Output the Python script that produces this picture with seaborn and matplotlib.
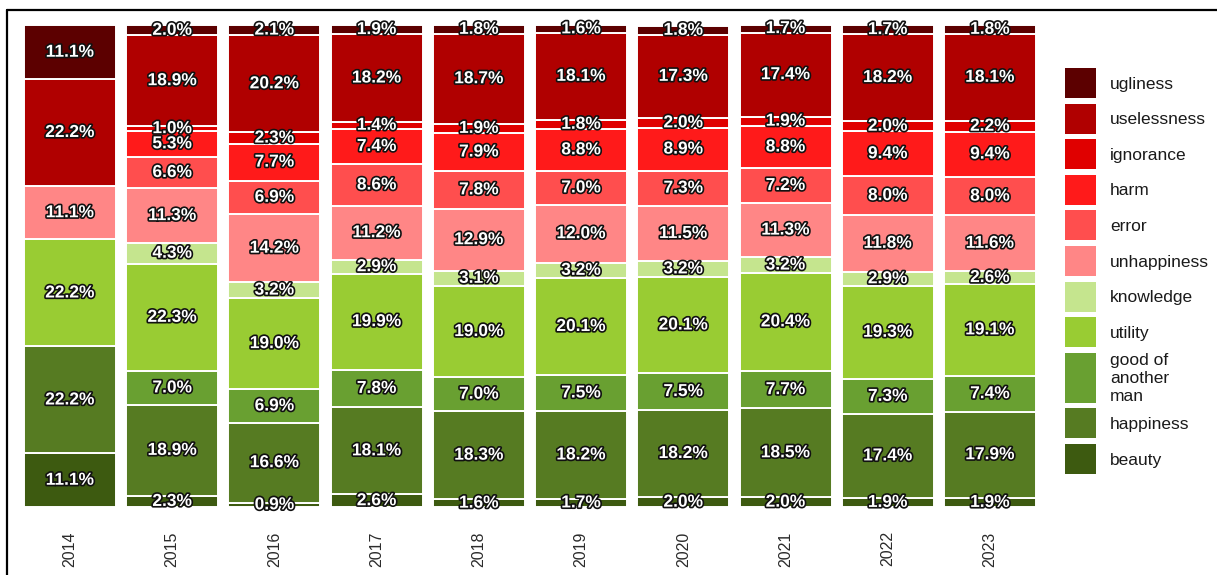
import numpy as np
import pandas as pd
import matplotlib
matplotlib.use("Agg")
import matplotlib.pyplot as plt
import matplotlib.patheffects as pe
from matplotlib.patches import Rectangle
from matplotlib.lines import Line2D
import seaborn as sns

years = ["2014", "2015", "2016", "2017", "2018", "2019", "2020", "2021", "2022", "2023"]

# categories in stacking order, bottom to top
categories = ["beauty", "happiness", "good of another man", "utility", "knowledge",
              "unhappiness", "error", "harm", "ignorance", "uselessness", "ugliness"]

beauty = [11.1, 2.3, 0.9, 2.6, 1.6, 1.7, 2.0, 2.0, 1.9, 1.9]
happiness = [22.2, 18.9, 16.6, 18.1, 18.3, 18.2, 18.2, 18.5, 17.4, 17.9]
good_of_another_man = [0.0, 7.0, 6.9, 7.8, 7.0, 7.5, 7.5, 7.7, 7.3, 7.4]
utility = [22.2, 22.3, 19.0, 19.9, 19.0, 20.1, 20.1, 20.4, 19.3, 19.1]
knowledge = [0.0, 4.3, 3.2, 2.9, 3.1, 3.2, 3.2, 3.2, 2.9, 2.6]
unhappiness = [11.1, 11.3, 14.2, 11.2, 12.9, 12.0, 11.5, 11.3, 11.8, 11.6]
error = [0.0, 6.6, 6.9, 8.6, 7.8, 7.0, 7.3, 7.2, 8.0, 8.0]
harm = [0.0, 5.3, 7.7, 7.4, 7.9, 8.8, 8.9, 8.8, 9.4, 9.4]
ignorance = [0.0, 1.0, 2.3, 1.4, 1.9, 1.8, 2.0, 1.9, 2.0, 2.2]
uselessness = [22.2, 18.9, 20.2, 18.2, 18.7, 18.1, 17.3, 17.4, 18.2, 18.1]
ugliness = [11.1, 2.0, 2.1, 1.9, 1.8, 1.6, 1.8, 1.7, 1.7, 1.8]

series = [beauty, happiness, good_of_another_man, utility, knowledge,
          unhappiness, error, harm, ignorance, uselessness, ugliness]

colors = ["#3d5a10", "#567b22", "#69a031", "#99cc33", "#c5e58e",
          "#ff8686", "#ff4e4e", "#ff1a1a", "#e00000", "#b00000", "#5c0000"]

legend_labels = ["beauty", "happiness", "good of\nanother\nman", "utility", "knowledge",
                 "unhappiness", "error", "harm", "ignorance", "uselessness", "ugliness"]

sns.set_theme(style="white")
plt.rcParams["font.family"] = ["Liberation Sans", "DejaVu Sans"]

W, H = 1217, 575
fig = plt.figure(figsize=(W / 100, H / 100), dpi=100)
fig.patch.set_facecolor("white")

# main plotting area in pixel terms
x_left, x_right = 8.7, 1051.3
y_top, y_bottom = 25, 507
ax = fig.add_axes([x_left / W, 1 - y_bottom / H, (x_right - x_left) / W, (y_bottom - y_top) / H])

bottom = np.zeros(len(years))
for cat, vals, col in zip(categories, series, colors):
    df = pd.DataFrame({"year": years, "pct": vals})
    sns.barplot(data=df, x="year", y="pct", order=years, bottom=bottom.copy(),
                color=col, saturation=1, width=0.9, edgecolor="white",
                linewidth=1.4, ax=ax, errorbar=None)
    for i, v in enumerate(vals):
        if v > 0:
            ax.text(i, bottom[i] + v / 2, f"{v:.1f}%", ha="center", va="center",
                    color="white", fontsize=12.5, fontweight="bold",
                    path_effects=[pe.withStroke(linewidth=2.4, foreground="#111111")],
                    zorder=5)
    bottom += np.array(vals)

ax.set_xlim(-0.6, 9.6)
ax.set_ylim(0, 100)
ax.set_xlabel("")
ax.set_ylabel("")
ax.set_yticks([])
ax.tick_params(axis="x", length=0, pad=17.5, labelsize=11.5, labelcolor="#2b2b2b")
for lbl in ax.get_xticklabels():
    lbl.set_rotation(90)
    lbl.set_va("top")
for s in ax.spines.values():
    s.set_visible(False)
ax.set_facecolor("white")

# legend drawn in pixel coordinates
lax = fig.add_axes([0, 0, 1, 1], zorder=10)
lax.set_xlim(0, W)
lax.set_ylim(H, 0)
lax.axis("off")
lax.patch.set_alpha(0)
top = 68.0
for lab, col in zip(legend_labels[::-1], colors[::-1]):
    h = 50.0 if "\n" in lab else 30.0
    lax.add_patch(Rectangle((1065, top), 31, h, facecolor=col, edgecolor="none"))
    lax.text(1110, top + h / 2 + 1, lab, ha="left", va="center", fontsize=12.5,
             color="#1a1a1a", linespacing=1.25)
    top += h + 5.6

# frame lines along the top and left edges
fig.add_artist(Line2D([7 / W, 7 / W], [0, 1 - 10 / H], transform=fig.transFigure,
                      color="black", linewidth=1.6))
fig.add_artist(Line2D([7 / W, 1], [1 - 10 / H, 1 - 10 / H], transform=fig.transFigure,
                      color="black", linewidth=1.6))

fig.savefig("out.png", dpi=100, facecolor="white")
